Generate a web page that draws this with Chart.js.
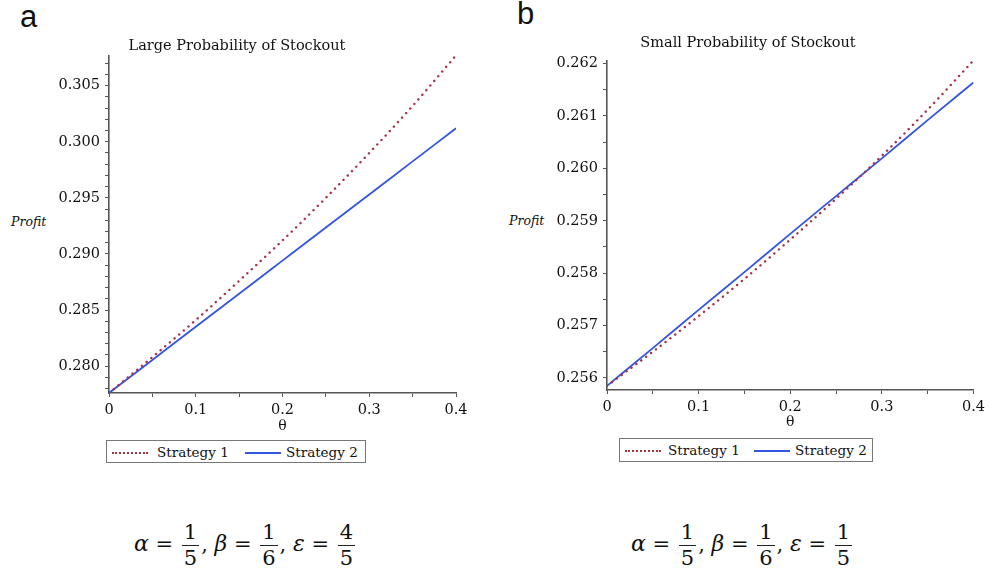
<!DOCTYPE html>
<html>
<head>
<meta charset="utf-8">
<script src="https://cdn.jsdelivr.net/npm/chart.js@4/dist/chart.umd.min.js"></script>
<style>
  body { margin: 0; background: #fff; width: 990px; height: 575px; position: relative; overflow: hidden; }
  canvas { position: absolute; top: 0; }
  .panel { position: absolute; font-family: "Liberation Sans", Arial, sans-serif; font-size: 31px; color: #111; }
  .ylab { position: absolute; font-family: "DejaVu Serif", serif; font-style: italic; font-size: 12.5px; color: #111; }
  .legend { position: absolute; border: 1.5px solid #777; box-sizing: border-box; font-family: "DejaVu Serif", serif; font-size: 13.5px; color: #111; }
  .legend span { position: absolute; top: 3px; white-space: nowrap; }
  .legend .smp { position: absolute; top: 11px; height: 0; }
  .formula { position: absolute; font-family: "DejaVu Serif", serif; font-size: 21px; color: #111; white-space: nowrap; }
  .formula i { font-size: 22px; }
  .frac { display: inline-block; vertical-align: middle; text-align: center; margin: 0 2px; }
  .frac .n { display: block; padding: 0 2px; border-bottom: 1.4px solid #222; line-height: 25px; }
  .frac .d { display: block; line-height: 25px; }
</style>
</head>
<body>
<div class="panel" style="left:20px; top:-1px;">a</div>
<div class="panel" style="left:517px; top:-4px;">b</div>
<div class="ylab" style="left:11px; top:214px;">Profit</div>
<div class="ylab" style="left:509px; top:213px;">Profit</div>
<canvas id="chartA" width="476" height="440" style="left:18px"></canvas>
<canvas id="chartB" width="472" height="436" style="left:518px"></canvas>

<div class="legend" style="left:106px; top:440px; width:260px; height:23px;">
  <div class="smp" style="left:5px; width:36px; border-top:2px dotted #a83244;"></div>
  <span style="left:50px;">Strategy 1</span>
  <div class="smp" style="left:138px; width:36px; border-top:2px solid #3355e0;"></div>
  <span style="left:179px;">Strategy 2</span>
</div>
<div class="legend" style="left:619px; top:438px; width:254px; height:24px;">
  <div class="smp" style="left:5px; width:36px; border-top:2px dotted #a83244;"></div>
  <span style="left:48px;">Strategy 1</span>
  <div class="smp" style="left:134px; width:36px; border-top:2px solid #3355e0;"></div>
  <span style="left:175px;">Strategy 2</span>
</div>

<div class="formula" style="left:134px; top:520px;">
  <i>α</i> = <span class="frac"><span class="n">1</span><span class="d">5</span></span>, <i>β</i> = <span class="frac"><span class="n">1</span><span class="d">6</span></span>, <i>ε</i> = <span class="frac"><span class="n">4</span><span class="d">5</span></span>
</div>
<div class="formula" style="left:631px; top:520px;">
  <i>α</i> = <span class="frac"><span class="n">1</span><span class="d">5</span></span>, <i>β</i> = <span class="frac"><span class="n">1</span><span class="d">6</span></span>, <i>ε</i> = <span class="frac"><span class="n">1</span><span class="d">5</span></span>
</div>

<script>
// theta values shared by both panels
const theta = [0, 0.05, 0.1, 0.15, 0.2, 0.25, 0.3, 0.35, 0.4];

// panel a: large probability of stockout
const strategy1A = [0.2776, 0.2808, 0.2841, 0.2876, 0.2912, 0.2950, 0.2990, 0.3032, 0.3077];
const strategy2A = [0.2776, 0.28055, 0.2835, 0.28645, 0.2894, 0.29235, 0.2953, 0.29825, 0.3012];
const yMajorA = [0.280, 0.285, 0.290, 0.295, 0.300, 0.305];

// panel b: small probability of stockout
const strategy1B = [0.25585, 0.25650, 0.25718, 0.25789, 0.25864, 0.25942, 0.26024, 0.26112, 0.26206];
const strategy2B = [0.25585, 0.25657, 0.25730, 0.25802, 0.25875, 0.25947, 0.26019, 0.26092, 0.26164];
const yMajorB = [0.256, 0.257, 0.258, 0.259, 0.260, 0.261, 0.262];

const xMajor = [0, 0.1, 0.2, 0.3, 0.4];
const xLabels = ['0', '0.1', '0.2', '0.3', '0.4'];

const RED = '#a83244';
const BLUE = '#3355e0';
const AXIS = '#555';
const TEXT = '#111';

function minorList(lo, hi, step) {
  const out = [];
  for (let v = lo; v <= hi + step / 10; v += step) out.push(+v.toFixed(6));
  return out;
}

function makeChart(id, opt) {
  const ctx = document.getElementById(id).getContext('2d');
  const pts = arr => theta.map((t, i) => ({ x: t, y: arr[i] }));
  const yTicks = minorList(opt.yTickLo, opt.yTickHi, opt.yMinorStep);
  const xTicks = minorList(0, 0.4, 0.05);
  const isMajor = (v, list) => list.some(m => Math.abs(m - v) < 1e-9);

  return new Chart(ctx, {
    type: 'line',
    data: {
      datasets: [
        {
          label: 'Strategy 1',
          data: pts(opt.s1),
          borderColor: RED,
          borderWidth: 2.4,
          borderDash: [0.1, 6],
          borderCapStyle: 'round',
          pointRadius: 0,
          cubicInterpolationMode: 'monotone',
          fill: false
        },
        {
          label: 'Strategy 2',
          data: pts(opt.s2),
          borderColor: BLUE,
          borderWidth: 1.8,
          pointRadius: 0,
          cubicInterpolationMode: 'monotone',
          fill: false
        }
      ]
    },
    options: {
      responsive: false,
      animation: false,
      layout: { padding: { left: 0, right: opt.padRight, top: 0, bottom: 0 } },
      plugins: {
        legend: { display: false },
        tooltip: { enabled: false },
        title: {
          display: true,
          text: opt.title,
          color: TEXT,
          font: { family: 'DejaVu Serif', size: 14.5, weight: 'normal' },
          padding: { top: opt.titleTop, bottom: opt.titleBottom }
        }
      },
      scales: {
        x: {
          type: 'linear',
          min: 0,
          max: 0.4,
          afterBuildTicks: s => { s.ticks = xTicks.map(v => ({ value: v })); },
          afterFit: s => { s.height = opt.xHeight; },
          border: { color: AXIS, width: 1.6 },
          grid: { drawOnChartArea: false, tickLength: 4, tickColor: AXIS },
          ticks: {
            color: TEXT,
            padding: 5,
            maxRotation: 0,
            autoSkip: false,
            font: { family: 'DejaVu Serif', size: 14.5 },
            callback: v => {
              const i = xMajor.findIndex(m => Math.abs(m - v) < 1e-9);
              return i >= 0 ? xLabels[i] : '';
            }
          },
          title: {
            display: true,
            text: 'θ',
            color: TEXT,
            font: { family: 'DejaVu Serif', size: 14 },
            padding: { top: 0, bottom: 5 }
          }
        },
        y: {
          type: 'linear',
          min: opt.yMin,
          max: opt.yMax,
          afterBuildTicks: s => { s.ticks = yTicks.map(v => ({ value: v })); },
          afterFit: s => { s.width = opt.yWidth; },
          border: { color: AXIS, width: 1.6 },
          grid: { drawOnChartArea: false, tickLength: 4, tickColor: AXIS },
          ticks: {
            color: TEXT,
            padding: 5,
            autoSkip: false,
            font: { family: 'DejaVu Serif', size: 14.5 },
            callback: v => isMajor(v, opt.yMajor) ? v.toFixed(3) : ''
          }
        }
      }
    }
  });
}

makeChart('chartA', {
  title: 'Large Probability of Stockout',
  s1: strategy1A, s2: strategy2A,
  yMin: 0.2776, yMax: 0.3077,
  yMajor: yMajorA, yTickLo: 0.278, yTickHi: 0.307, yMinorStep: 0.001,
  yWidth: 91, padRight: 38, xHeight: 47,
  titleTop: 38, titleBottom: 0
});

makeChart('chartB', {
  title: 'Small Probability of Stockout',
  s1: strategy1B, s2: strategy2B,
  yMin: 0.25577, yMax: 0.26206,
  yMajor: yMajorB, yTickLo: 0.256, yTickHi: 0.262, yMinorStep: 0.0005,
  yWidth: 89, padRight: 12, xHeight: 46,
  titleTop: 35, titleBottom: 8
});
</script>
</body>
</html>
